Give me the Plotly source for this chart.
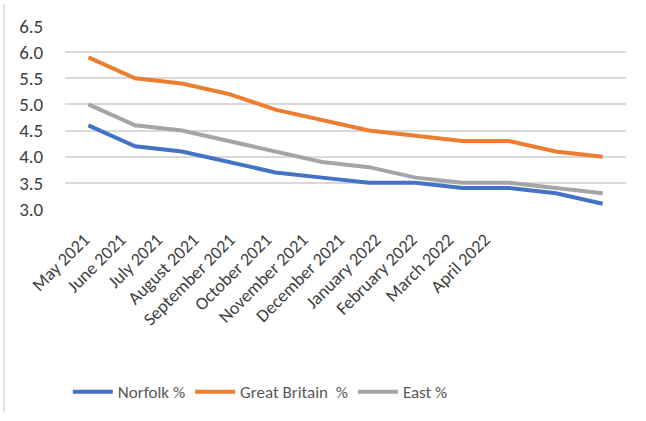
import plotly.graph_objects as go

months = ["May 2021", "June 2021", "July 2021", "August 2021", "September 2021",
          "October 2021", "November 2021", "December 2021", "January 2022",
          "February 2022", "March 2022", "April 2022"]
norfolk = [4.6, 4.2, 4.1, 3.9, 3.7, 3.6, 3.5, 3.5, 3.4, 3.4, 3.3, 3.1]
great_britain = [5.9, 5.5, 5.4, 5.2, 4.9, 4.7, 4.5, 4.4, 4.3, 4.3, 4.1, 4.0]
east = [5.0, 4.6, 4.5, 4.3, 4.1, 3.9, 3.8, 3.6, 3.5, 3.5, 3.4, 3.3]
y_ticks = [3.0, 3.5, 4.0, 4.5, 5.0, 5.5, 6.0, 6.5]

series = [
    ("Norfolk %", norfolk, "#4472C4"),
    ("Great Britain  %", great_britain, "#ED7D31"),
    ("East %", east, "#A5A5A5"),
]

fig = go.Figure()
for name, vals, col in series:
    fig.add_trace(go.Scatter(x=months, y=vals, name=name, mode="lines",
                             line=dict(color=col, width=4)))

# label axis: in the source image the month labels sit on a tighter spacing than the points
label_idx = list(range(len(months)))
fig.add_trace(go.Scatter(x=[], y=[], xaxis="x2", showlegend=False, hoverinfo="skip"))

font_family = "Carlito, Calibri, Lato, 'Liberation Sans', 'Noto Sans', sans-serif"
fig.update_layout(
    width=646, height=421,
    margin=dict(l=65, r=20, t=26, b=211),
    paper_bgcolor="white", plot_bgcolor="white",
    font=dict(family=font_family, size=16, color="#404040"),
    showlegend=True,
    legend=dict(orientation="h", x=0.005, xanchor="left", y=-0.99, yanchor="middle",
                font=dict(size=17, color="#595959"), itemwidth=40, tracegroupgap=0),
    xaxis=dict(type="category", showgrid=False, showline=False, showticklabels=False,
               ticks="", range=[-0.5, 11.5]),
    xaxis2=dict(overlaying="x", anchor="y", side="bottom", type="linear",
                range=[-0.53, 14.88], tickvals=label_idx, ticktext=months,
                tickangle=-45, showgrid=False, showline=False, zeroline=False,
                ticks="outside", ticklen=12, tickcolor="rgba(0,0,0,0)",
                tickfont=dict(size=18, color="#404040")),
    yaxis=dict(range=[3.0, 6.5], tickvals=y_ticks, ticktext=[f"{v:.1f}" for v in y_ticks],
               showgrid=True, gridcolor="#D9D9D9", gridwidth=1.5, zeroline=False,
               showline=False, ticks="outside", ticklen=17, tickcolor="rgba(0,0,0,0)",
               tickfont=dict(size=19, color="#404040")),
    shapes=[dict(type="line", xref="paper", yref="paper", x0=-0.109, x1=-0.109,
                 y0=-1.11, y1=1.12, line=dict(color="#D9D9D9", width=1.5))],
)

fig.write_html("out.html")
